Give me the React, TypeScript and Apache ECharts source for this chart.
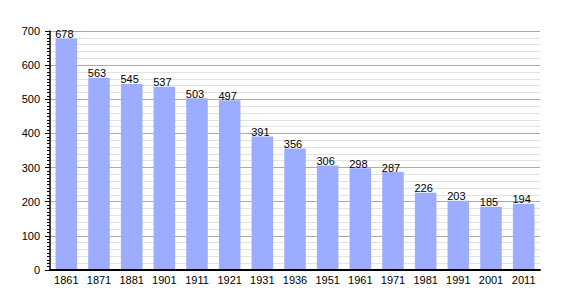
import React, { useEffect, useRef } from "react";
import * as echarts from "echarts";

const years = ["1861", "1871", "1881", "1901", "1911", "1921", "1931", "1936", "1951", "1961", "1971", "1981", "1991", "2001", "2011"];
const population = [678, 563, 545, 537, 503, 497, 391, 356, 306, 298, 287, 226, 203, 185, 194];
const yMin = 0;
const yMax = 700;
const yStep = 100;
const minorStep = 20;

export default function App() {
  const ref = useRef<HTMLDivElement>(null);
  useEffect(() => {
    document.body.style.margin = "0";
    const chart = echarts.init(ref.current!, null, { renderer: "svg" });
    const font = "Liberation Sans, Arial, sans-serif";
    chart.setOption({
      animation: false,
      backgroundColor: "#ffffff",
      grid: { left: 50, right: 30, top: 31, bottom: 30 },
      xAxis: {
        type: "category",
        data: years,
        axisLine: { show: true, lineStyle: { color: "#000", width: 2 } },
        axisTick: { show: false },
        axisLabel: { color: "#000", fontSize: 11, fontFamily: font, margin: 4 },
        z: 5,
      },
      yAxis: [
        {
          type: "value",
          min: yMin,
          max: yMax,
          interval: yStep,
          axisLine: { show: true, lineStyle: { color: "#000", width: 1.5 } },
          axisTick: { show: true, length: 5, lineStyle: { color: "#000" } },
          minorTick: { show: true, splitNumber: 10, length: 3, lineStyle: { color: "#000" } },
          axisLabel: { color: "#000", fontSize: 11, fontFamily: font, margin: 10 },
          splitLine: { show: true, lineStyle: { color: "#aaaaaa", width: 1 } },
          z: 1,
        },
        {
          type: "value",
          min: yMin,
          max: yMax,
          interval: minorStep,
          position: "left",
          axisLine: { show: false },
          axisTick: { show: false },
          axisLabel: { show: false },
          splitLine: { show: true, lineStyle: { color: "#e2e2e2", width: 1 } },
          z: 0,
        },
      ],
      series: [
        {
          type: "bar",
          data: population,
          yAxisIndex: 0,
          barCategoryGap: "34%",
          itemStyle: { color: "#9cadff" },
          label: {
            show: true,
            position: "top",
            distance: -1,
            offset: [-2, 0],
            color: "#000",
            fontSize: 11,
            fontFamily: font,
          },
          z: 3,
        },
      ],
    });
    return () => chart.dispose();
  }, []);
  return <div ref={ref} style={{ width: 570, height: 300 }} />;
}
